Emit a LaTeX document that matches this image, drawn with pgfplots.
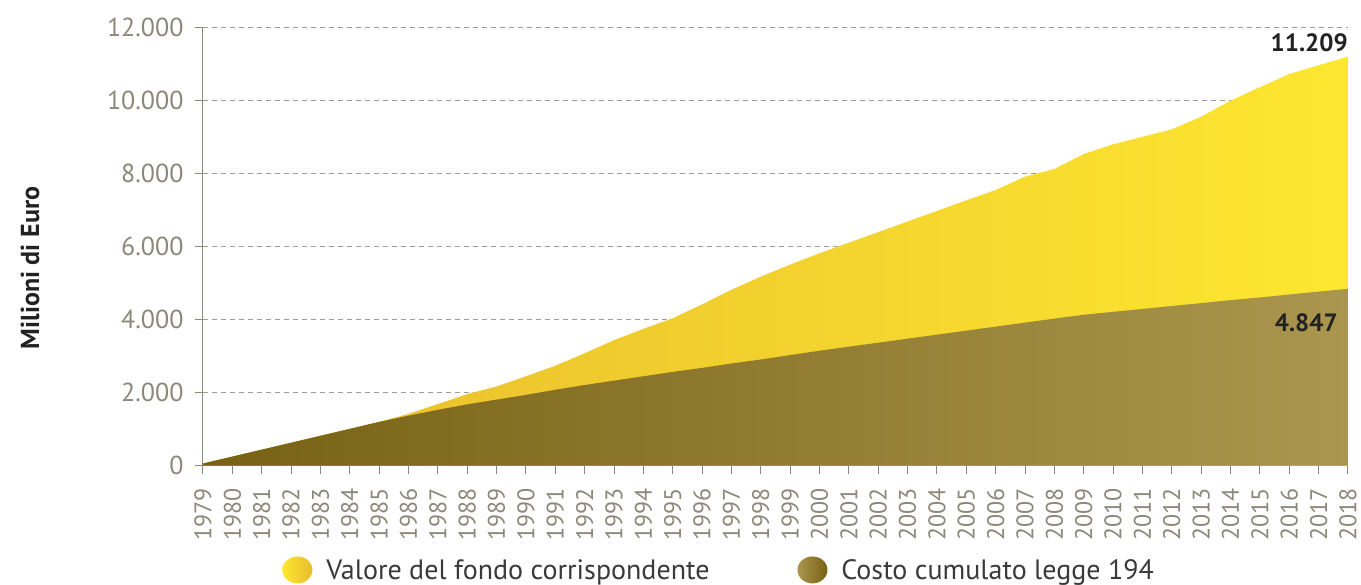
\documentclass[border=0pt]{standalone}
\usepackage{pgfplots}
\pgfplotsset{compat=1.18}
\usepackage{pgfplotstable}
\usepackage{fontspec}
\setmainfont{PT Sans}
\definecolor{tickgray}{HTML}{8C877A}
\definecolor{axisgray}{HTML}{8C877D}
\definecolor{gridgray}{HTML}{A09C94}
\definecolor{legtext}{HTML}{3A3A3A}
\definecolor{valtext}{HTML}{222222}
\definecolor{yelL}{HTML}{E8BC2D}
\definecolor{yelR}{HTML}{FDE730}
\definecolor{brnL}{HTML}{776114}
\definecolor{brnR}{HTML}{AA964E}

\pgfplotstableread{
year fondo costo
1979 60 60
1980 250 250
1981 440 440
1982 630 630
1983 820 820
1984 1010 1010
1985 1200 1200
1986 1420 1370
1987 1690 1530
1988 1960 1680
1989 2170 1810
1990 2450 1940
1991 2740 2080
1992 3080 2210
1993 3440 2330
1994 3750 2450
1995 4040 2570
1996 4420 2680
1997 4820 2800
1998 5180 2910
1999 5510 3030
2000 5820 3150
2001 6110 3260
2002 6400 3370
2003 6690 3480
2004 6980 3590
2005 7270 3700
2006 7553 3810
2007 7918 3920
2008 8129 4030
2009 8540 4135
2010 8805 4215
2011 9010 4295
2012 9216 4375
2013 9562 4455
2014 10000 4535
2015 10370 4610
2016 10731 4690
2017 10970 4770
2018 11209 4847
}\data

\begin{document}
\begin{tikzpicture}
\useasboundingbox (-203pt,-119.3pt) rectangle (1158pt,465.7pt);
\begin{axis}[
  scale only axis, width=1145pt, height=438pt,
  at={(0pt,0pt)}, anchor=south west,
  xmin=1979, xmax=2018, ymin=0, ymax=12000,
  axis lines=left,
  axis line style={-, draw=axisgray, line width=1pt},
  xtick={1979,1980,...,2018},
  ytick={0,2000,...,12000},
  scaled y ticks=false,
  tick align=outside,
  major tick length=8pt,
  xtick style={draw=axisgray, line width=1pt},
  ytick style={draw=axisgray, line width=1pt},
  ymajorgrids,
  grid style={draw=gridgray, dash pattern=on 5pt off 4pt, line width=1pt},
  /pgf/number format/1000 sep={.},
  /pgf/number format/assume math mode=true,
  xticklabel={\pgfmathprintnumber[1000 sep={}, fixed, precision=0]{\tick}},
  x tick label style={rotate=90, anchor=east, font=\fontsize{24}{24}\selectfont, text=tickgray},
  xticklabel shift=11pt,
  y tick label style={font=\fontsize{26}{26}\selectfont, text=tickgray},
  yticklabel shift=8pt,
  clip=false,
  legend style={at={(0.4508,-0.238)}, anchor=center, draw=none, fill=none,
    legend columns=2, font=\fontsize{28}{30}\selectfont, text=legtext,
    /tikz/every even column/.append style={column sep=86pt}},
  legend cell align=left,
]
\addplot[draw=none, left color=yelL, right color=yelR,
  legend image code/.code={\shade[left color=yelR, right color=yelL] (15pt,0pt) ellipse (15pt and 13.5pt); \path (0pt,0pt) -- (42pt,0pt);}]
  table[x=year, y=fondo] {\data} \closedcycle;
\addlegendentry{Valore del fondo corrispondente}
\addplot[draw=none, left color=brnL, right color=brnR,
  legend image code/.code={\shade[left color=brnR, right color=brnL] (15pt,0pt) ellipse (15pt and 13.5pt); \path (0pt,0pt) -- (42pt,0pt);}]
  table[x=year, y=costo] {\data} \closedcycle;
\addlegendentry{Costo cumulato legge 194}
\node[anchor=base east, inner sep=0pt, font=\bfseries\fontsize{25}{25}\selectfont, text=valtext, yshift=5pt] at (axis cs:2018,11209) {11.209};
\node[anchor=base east, inner sep=0pt, font=\bfseries\fontsize{25}{25}\selectfont, text=valtext, xshift=-10pt, yshift=-43pt] at (axis cs:2018,4847) {4.847};
\end{axis}
\node[rotate=90, font=\bfseries\fontsize{26}{26}\selectfont, text=valtext] at (-173pt,197.7pt) {Milioni di Euro};
\end{tikzpicture}
\end{document}
